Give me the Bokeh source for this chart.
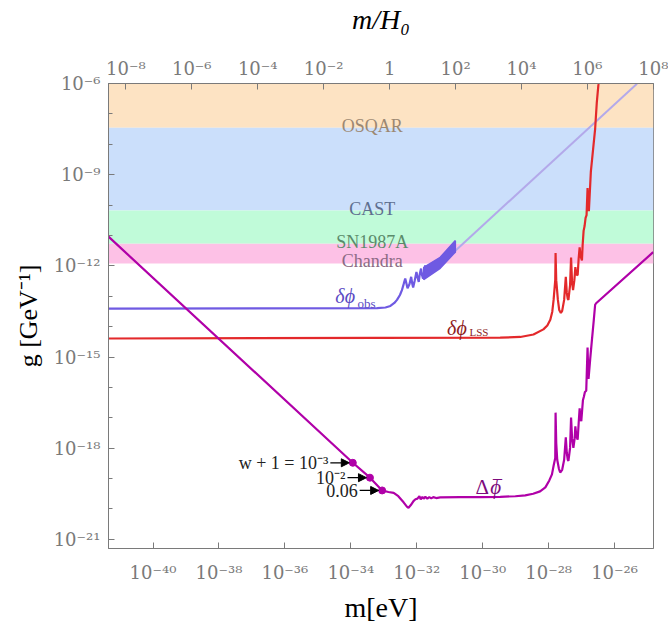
import numpy as np
from bokeh.plotting import figure
from bokeh.models import (Range1d, LogAxis, LogScale, FixedTicker, CustomJSTickFormatter,
                          Label, Arrow, NormalHead)
from bokeh.embed import file_html
from bokeh.resources import INLINE
from bokeh.core.properties import value

# ---------------- data ----------------
H0_EV = 1.5e-33                  # mass (eV) where m/H0 = 1
M_LOG_RANGE = (-41.35, -24.82)   # log10 m [eV]
G_LOG_RANGE = (-21.3, -6.0)      # log10 g [GeV^-1]

x_tick_exponents = [-40, -38, -36, -34, -32, -30, -28, -26]
top_tick_exponents = [-8, -6, -4, -2, 0, 2, 4, 6, 8]
y_tick_exponents = [-21, -18, -15, -12, -9, -6]
y_minor_exponents = list(range(-21, -5))

band_names = ["OSQAR", "CAST", "SN1987A", "Chandra"]
band_lower = [3.5e-8, 6.6e-11, 5.3e-12, 1.2e-12]
band_upper = [1e-6, 3.5e-8, 6.6e-11, 5.3e-12]

# curves: (log10 m, log10 g)
dphi_obs_points = [(-41.35, -13.41), (-33.20, -13.39), (-32.95, -13.37), (-32.80, -13.32),
                   (-32.68, -13.22), (-32.60, -13.12), (-32.51, -12.96), (-32.45, -12.80),
                   (-32.39, -12.57), (-32.35, -12.42), (-32.31, -12.60), (-32.28, -12.74),
                   (-32.22, -12.60), (-32.17, -12.36), (-32.14, -12.57), (-32.11, -12.71),
                   (-32.06, -12.47), (-32.01, -12.20), (-31.97, -12.41), (-31.94, -12.53),
                   (-31.91, -12.28), (-31.87, -12.09), (-31.84, -12.31), (-31.81, -12.42),
                   (-31.77, -12.15), (-31.74, -11.98)]
dphi_obs_band_upper = [(-31.79, -12.05), (-31.29, -11.72), (-30.83, -11.17)]
dphi_obs_band_lower = [(-31.79, -12.45), (-31.29, -12.08), (-30.88, -11.60), (-30.83, -11.55)]
dphi_obs_ext_points = [(-30.88, -11.55), (-25.32, -6.01)]

dphi_lss_points = [(-41.35, -14.39), (-29.47, -14.36), (-28.86, -14.34), (-28.46, -14.26),
                   (-28.16, -14.09), (-28.04, -13.96), (-27.95, -13.77), (-27.89, -13.51),
                   (-27.85, -13.12), (-27.80, -12.47), (-27.79, -11.58), (-27.77, -12.47),
                   (-27.72, -13.12), (-27.68, -13.45), (-27.63, -13.55), (-27.59, -13.48),
                   (-27.53, -13.12), (-27.48, -12.36), (-27.45, -12.89), (-27.42, -13.09),
                   (-27.40, -13.12), (-27.35, -12.63), (-27.32, -11.73), (-27.29, -12.54),
                   (-27.26, -12.80), (-27.22, -12.47), (-27.19, -12.04), (-27.16, -12.28),
                   (-27.12, -12.31), (-27.09, -11.76), (-27.06, -11.39), (-27.03, -11.69),
                   (-26.99, -11.82), (-26.97, -11.33), (-26.94, -10.85), (-26.91, -10.69),
                   (-26.88, -10.42), (-26.85, -10.33), (-26.82, -9.44), (-26.80, -9.97),
                   (-26.78, -10.20), (-26.72, -8.90), (-26.66, -8.25), (-26.59, -7.49),
                   (-26.54, -6.63), (-26.49, -6.03), (-26.47, -5.65)]

dphibar_points = [(-41.35, -11.04), (-33.94, -18.48), (-33.42, -18.97), (-33.05, -19.39),
                  (-32.86, -19.44), (-32.70, -19.47), (-32.56, -19.58), (-32.40, -19.78),
                  (-32.30, -19.92), (-32.25, -19.96), (-32.18, -19.87), (-32.10, -19.74),
                  (-32.04, -19.68), (-31.98, -19.66), (-31.92, -19.58), (-31.88, -19.68),
                  (-31.83, -19.60), (-31.79, -19.66), (-31.74, -19.60), (-31.68, -19.66),
                  (-31.62, -19.61), (-31.56, -19.65), (-31.50, -19.61), (-31.41, -19.64),
                  (-31.29, -19.62), (-30.68, -19.61), (-30.07, -19.61), (-29.47, -19.60),
                  (-29.01, -19.58), (-28.71, -19.55), (-28.47, -19.50), (-28.26, -19.42),
                  (-28.10, -19.29), (-27.98, -19.06), (-27.90, -18.86), (-27.85, -18.58),
                  (-27.80, -18.32), (-27.79, -16.83), (-27.77, -17.83), (-27.74, -18.38),
                  (-27.69, -18.67), (-27.65, -18.80), (-27.59, -18.71), (-27.53, -18.38),
                  (-27.48, -17.64), (-27.45, -18.15), (-27.42, -18.38), (-27.40, -18.42),
                  (-27.35, -17.99), (-27.32, -16.99), (-27.29, -17.67), (-27.25, -17.99),
                  (-27.21, -17.67), (-27.19, -17.28), (-27.16, -17.60), (-27.12, -17.72),
                  (-27.09, -17.18), (-27.06, -16.69), (-27.04, -17.02), (-27.01, -17.11),
                  (-26.98, -16.69), (-26.96, -16.42), (-26.93, -16.30), (-26.90, -16.15),
                  (-26.86, -16.11), (-26.82, -14.69), (-26.80, -15.46), (-26.79, -15.72),
                  (-26.74, -15.07), (-26.69, -14.47), (-26.63, -13.77), (-26.59, -13.28),
                  (-26.56, -13.23), (-24.83, -11.55)]

w_points = [(-33.94, -18.48), (-33.42, -18.97), (-33.05, -19.39)]
w_labels = ["w + 1 = 10\u207b\u00b3", "10\u207b\u00b2", "0.06"]

# ---------------- styling ----------------
FONT = "Liberation Serif"
TICK_FONT = "DejaVu Serif"
GRAY = "#7a7a7a"
C_OBS = "#6f5ae2"
C_OBS_EXT = "#b3a9ea"
C_LSS = "#e3292b"
C_BAR = "#b000a8"
band_fill = ["#fde3c3", "#cbdffb", "#c0fbd9", "#fdc1e6"]
band_text = ["#9c8872", "#5f6f8f", "#5b8b6b", "#8c6a84"]


def to_xy(points):
    a = np.array(points, dtype=float)
    return 10.0 ** a[:, 0], 10.0 ** a[:, 1]


x0, x1 = 10.0 ** M_LOG_RANGE[0], 10.0 ** M_LOG_RANGE[1]
y0, y1 = 10.0 ** G_LOG_RANGE[0], 10.0 ** G_LOG_RANGE[1]

p = figure(width=668, height=625, x_axis_type="log", y_axis_type="log",
           x_range=Range1d(x0, x1), y_range=Range1d(y0, y1),
           output_backend="svg", toolbar_location=None,
           min_border_left=108, min_border_right=15, min_border_top=81, min_border_bottom=73,
           background_fill_color="white", border_fill_color="white")
p.grid.visible = False
p.outline_line_color = GRAY
p.outline_line_width = 1

p.extra_x_ranges = {"mh0": Range1d(x0 / H0_EV, x1 / H0_EV)}
p.extra_x_scales = {"mh0": LogScale()}

sup_fmt = CustomJSTickFormatter(code="""
const e = Math.round(Math.log10(tick));
if (e === 0) { return "1"; }
const sup = {"-": "\u207b", "0": "\u2070", "1": "\u00b9", "2": "\u00b2", "3": "\u00b3",
             "4": "\u2074", "5": "\u2075", "6": "\u2076", "7": "\u2077", "8": "\u2078", "9": "\u2079"};
return "10" + String(e).split("").map(c => sup[c]).join("");
""")

top_axis = LogAxis(x_range_name="mh0", axis_label="m/H\u2080",
                   ticker=FixedTicker(ticks=[10.0 ** e for e in top_tick_exponents], minor_ticks=[]),
                   formatter=sup_fmt)
p.add_layout(top_axis, "above")

bottom_axis = p.below[0]
bottom_axis.ticker = FixedTicker(ticks=[10.0 ** e for e in x_tick_exponents], minor_ticks=[])
bottom_axis.formatter = sup_fmt
bottom_axis.axis_label = "m[eV]"

left_axis = p.left[0]
left_axis.ticker = FixedTicker(ticks=[10.0 ** e for e in y_tick_exponents],
                               minor_ticks=[10.0 ** e for e in y_minor_exponents])
left_axis.formatter = sup_fmt
left_axis.axis_label = "g [GeV\u207b\u00b9]"

for ax in (top_axis, bottom_axis, left_axis):
    ax.axis_line_color = GRAY
    ax.major_tick_line_color = GRAY
    ax.minor_tick_line_color = GRAY
    ax.major_tick_in = 6
    ax.major_tick_out = 0
    ax.minor_tick_in = 4
    ax.minor_tick_out = 0
    ax.major_label_text_font = TICK_FONT
    ax.major_label_text_font_size = "18px"
    ax.major_label_text_color = GRAY
    ax.axis_label_text_font = FONT
    ax.axis_label_text_font_size = "28px"
    ax.axis_label_text_font_style = "normal"
    ax.axis_label_text_color = "black"
top_axis.axis_label_text_font_style = "italic"
top_axis.major_label_standoff = 5
top_axis.axis_label_standoff = 20
bottom_axis.major_label_standoff = 13
bottom_axis.axis_label_standoff = 6
left_axis.major_label_standoff = 8
left_axis.axis_label_standoff = 8
left_axis.axis_label_text_font_size = "26px"

# ---------------- bands ----------------
p.quad(left=[x0] * len(band_names), right=[x1] * len(band_names),
       bottom=band_lower, top=band_upper, fill_color=band_fill, line_color=None)
BAND_LABEL_LOGM = -33.35
for name, lo, col in zip(band_names, band_lower, band_text):
    p.add_layout(Label(x=10.0 ** BAND_LABEL_LOGM, y=lo, text=name, text_align="center",
                       text_baseline="alphabetic", y_offset=2, text_font=FONT,
                       text_font_size="18px", text_color=col))

# ---------------- curves ----------------
xs, ys = to_xy(dphi_obs_ext_points)
p.line(xs, ys, line_color=C_OBS_EXT, line_width=2)

xs, ys = to_xy(dphi_obs_points)
p.line(xs, ys, line_color=C_OBS, line_width=2.2)
ux, uy = to_xy(dphi_obs_band_upper)
lx, ly = to_xy(dphi_obs_band_lower)
p.patch(np.concatenate([ux, lx[::-1]]), np.concatenate([uy, ly[::-1]]),
        fill_color=C_OBS, line_color=C_OBS, line_width=1.5)

xs, ys = to_xy(dphi_lss_points)
p.line(xs, ys, line_color=C_LSS, line_width=2.2)

xs, ys = to_xy(dphibar_points)
p.line(xs, ys, line_color=C_BAR, line_width=2.2)

wx, wy = to_xy(w_points)
p.scatter(wx, wy, size=7, color=C_BAR)

# arrows + labels for w+1 points
for mx, gy, txt in zip(wx, wy, w_labels):
    xe = mx / 10 ** (3.5 / 33)
    xs_ = mx / 10 ** (22.5 / 33)
    p.add_layout(Arrow(end=NormalHead(size=8, fill_color="black", line_color="black"),
                       x_start=xs_, y_start=gy, x_end=xe, y_end=gy,
                       line_color="black", line_width=1.2))
    p.add_layout(Label(x=xs_, y=gy, text=txt, text_align="right", text_baseline="middle",
                       x_offset=-2, text_font=FONT, text_font_size="18px", text_color="#222222"))

# curve labels
def add_lbl(logm, logg, txt, col, size, style="normal", align="left", baseline="middle", yoff=0):
    p.add_layout(Label(x=10.0 ** logm, y=10.0 ** logg, text=txt, text_align=align,
                       text_baseline=baseline, text_font=FONT, text_font_size=size,
                       text_font_style=style, text_color=col, y_offset=yoff))

add_lbl(-34.47, -12.99, "\u03b4\u03d5", "#5b4bc4", "20px", "italic")
add_lbl(-33.80, -13.25, "obs", "#5b4bc4", "13px")
add_lbl(-31.08, -14.04, "\u03b4\u03d5", "#8e1b1b", "20px", "italic")
add_lbl(-30.40, -14.18, "LSS", "#8e1b1b", "11px")
add_lbl(-30.22, -19.26, "\u0394", "#7d0b7d", "21px")
add_lbl(-29.77, -19.26, "\u03d5", "#7d0b7d", "21px", "italic")
add_lbl(-29.55, -19.26, "\u00af", "#7d0b7d", "18px", "normal", "center", "alphabetic", 0)

open("out.html", "w").write(file_html(p, INLINE))
